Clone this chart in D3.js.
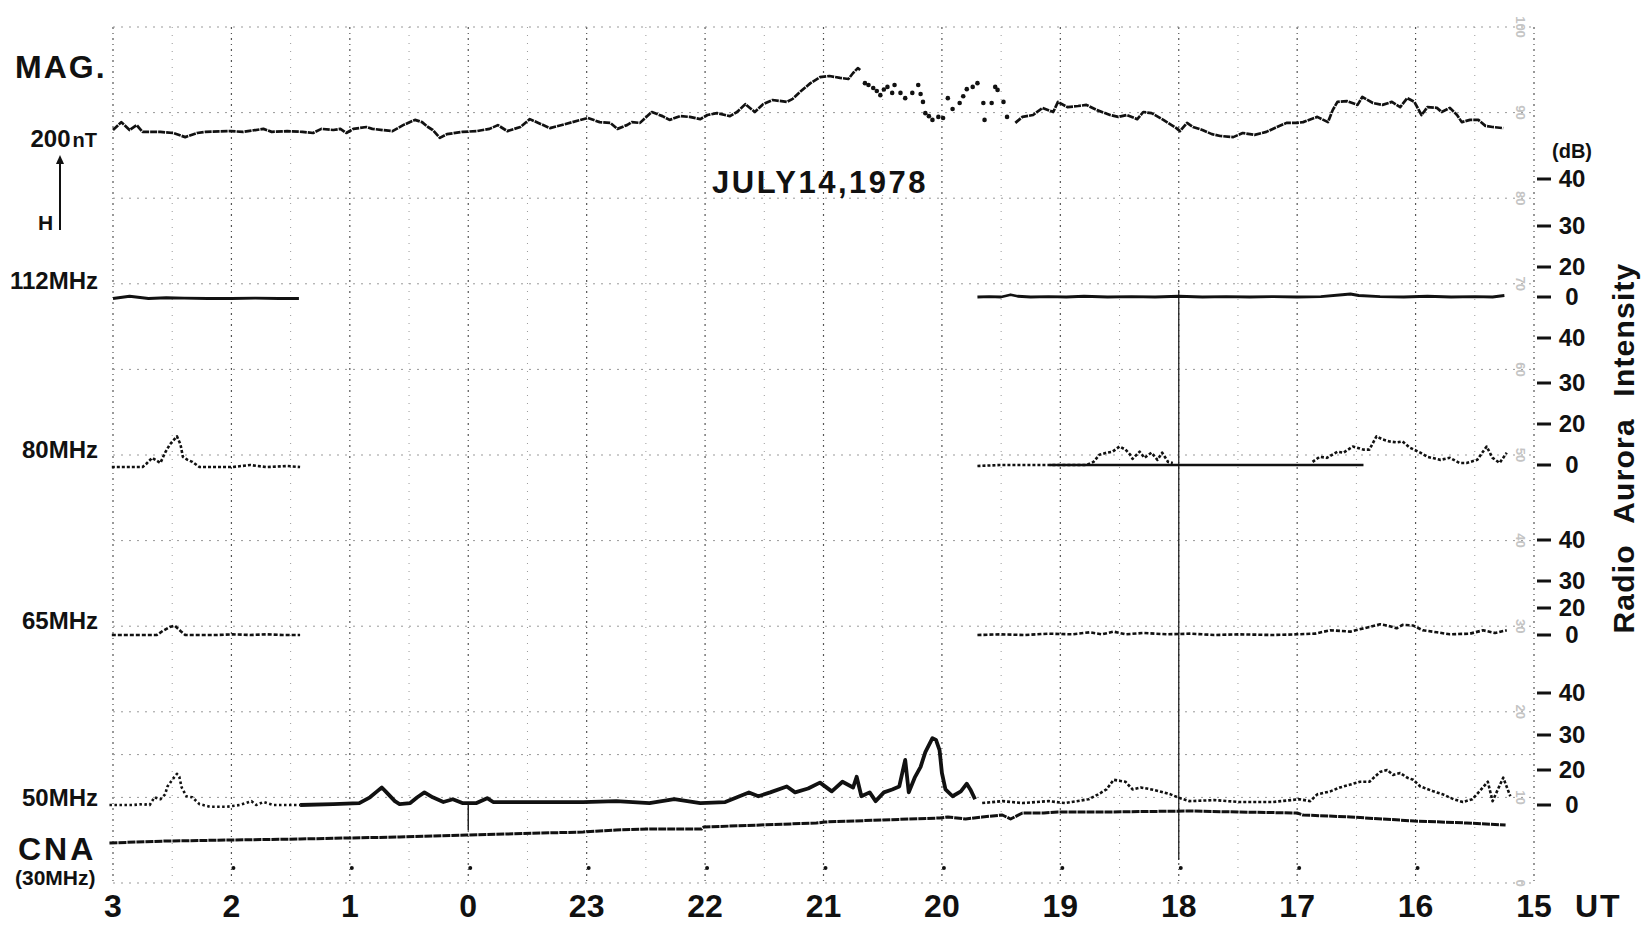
<!DOCTYPE html>
<html>
<head>
<meta charset="utf-8">
<script src="https://cdn.jsdelivr.net/npm/d3@7"></script>
<style>
body { margin: 0; background: #fff; }
text { font-family: "Liberation Sans", Arial, sans-serif; font-weight: bold; fill: #111; }
</style>
</head>
<body>
<div id="chart"></div>
<script>
// time axis: UT hours on a continuous scale, 24 = 0 UT, 27 = 3 UT
var hours = [15, 16, 17, 18, 19, 20, 21, 22, 23, 24, 25, 26, 27];
var hourLabels = ["15", "16", "17", "18", "19", "20", "21", "22", "23", "0", "1", "2", "3"];
var dbTicks = [0, 20, 30, 40];
// printed scale of the recorder paper, one number per division
var paperNumbers = [100, 90, 80, 70, 60, 50, 40, 30, 20, 10, 0];

// magnetometer H component, nT relative to the level at 03 UT
var magA = [[27.00,0],[26.93,21],[26.86,0],[26.80,13],[26.75,-5],[26.60,-5],[26.49,-8],[26.39,-19],[26.29,-8],[26.22,-5],[26.01,-3],[25.90,-5],[25.73,3],[25.66,-5],[25.53,-3],[25.40,-5],[25.31,-8],[25.24,3],[25.14,0],[25.08,3],[25.03,-8],[24.97,3],[24.86,8],[24.81,3],[24.64,-3],[24.55,13],[24.45,27],[24.39,21],[24.34,8],[24.30,0],[24.24,-21],[24.18,-11],[24.05,-5],[23.93,-3],[23.82,3],[23.75,13],[23.67,-3],[23.56,8],[23.48,29],[23.31,5],[23.12,21],[22.99,32],[22.89,21],[22.80,19],[22.74,3],[22.66,13],[22.62,21],[22.55,19],[22.45,48],[22.36,37],[22.30,27],[22.21,37],[22.13,35],[22.04,29],[21.98,40],[21.90,45],[21.79,37],[21.73,48],[21.66,69],[21.58,48],[21.51,69],[21.43,80],[21.31,75],[21.26,83],[21.20,101],[21.11,125],[21.03,141],[20.95,144],[20.86,139],[20.79,136],[20.75,152],[20.71,165],[20.69,160]];
var magB = [[20.65,125],[20.62,120],[20.58,112],[20.55,104],[20.52,93],[20.49,108],[20.46,115],[20.42,99],[20.40,120],[20.35,99],[20.31,85],[20.25,99],[20.20,120],[20.18,96],[20.16,75],[20.14,45],[20.11,37],[20.08,27],[20.03,35],[19.99,32],[19.95,85],[19.91,56],[19.85,72],[19.82,90],[19.79,109],[19.74,115],[19.70,125],[19.65,72],[19.64,27],[19.58,72],[19.55,115],[19.53,107],[19.48,75],[19.45,35]];
var magC = [[19.38,19],[19.32,35],[19.23,40],[19.15,59],[19.06,48],[19.02,75],[18.94,61],[18.85,64],[18.78,67],[18.69,53],[18.58,40],[18.51,35],[18.44,40],[18.35,29],[18.30,48],[18.23,45],[18.13,27],[18.02,5],[17.99,-3],[17.93,19],[17.88,8],[17.80,0],[17.72,-11],[17.65,-16],[17.54,-19],[17.46,-8],[17.36,-13],[17.26,-5],[17.17,8],[17.09,19],[17.00,19],[16.95,21],[16.83,35],[16.74,21],[16.70,53],[16.66,75],[16.58,77],[16.49,67],[16.45,88],[16.36,72],[16.28,67],[16.20,75],[16.13,61],[16.07,85],[16.01,75],[15.95,40],[15.90,61],[15.82,59],[15.78,48],[15.71,59],[15.65,40],[15.61,21],[15.54,27],[15.47,27],[15.41,11],[15.35,8],[15.26,5]];

// radio aurora intensity, dB
var r112a = [[27.00,-1],[26.86,0.5],[26.70,-1],[26.55,-0.5],[26.40,-0.7],[26.20,-1],[26.00,-1],[25.80,-0.7],[25.60,-1],[25.43,-1]];
var r112b = [[19.70,0],[19.60,0.3],[19.50,0],[19.42,1.5],[19.36,0.5],[19.25,0],[19.10,0.3],[18.95,0],[18.80,0.5],[18.60,0],[18.40,0.3],[18.20,0],[18.00,0.5],[17.80,0],[17.60,0.3],[17.40,0],[17.20,0.3],[17.00,0],[16.80,0.3],[16.62,1.5],[16.55,2],[16.48,1],[16.30,0.3],[16.10,0],[15.90,0.5],[15.70,0],[15.50,0.3],[15.35,0],[15.25,1]];

var r80a = [[27.01,-1],[26.75,-1],[26.72,0.5],[26.67,3.5],[26.60,1],[26.56,6],[26.52,10],[26.46,14],[26.43,10],[26.41,4],[26.37,2.5],[26.33,1.5],[26.27,-1],[26.12,-1],[25.99,-1],[25.84,0],[25.78,-0.5],[25.70,-1],[25.53,-0.5],[25.42,-1]];
var r80b = [[19.70,-0.5],[19.51,0],[19.26,0],[19.00,0],[18.78,0],[18.72,1.5],[18.67,5],[18.61,6],[18.56,6.5],[18.50,9],[18.45,7.5],[18.41,5],[18.39,3],[18.33,6.5],[18.29,3.5],[18.23,6],[18.18,2.5],[18.14,6],[18.09,1.5],[18.05,1]];
var r80c = [[16.87,1.5],[16.81,4],[16.75,3.5],[16.66,6.5],[16.61,6],[16.53,9],[16.44,7.5],[16.39,7.5],[16.33,14],[16.28,12.5],[16.22,11.5],[16.16,11],[16.11,11.5],[16.05,8.5],[15.96,6],[15.90,4],[15.79,2.5],[15.71,3.5],[15.63,1],[15.57,1],[15.48,2.5],[15.40,9],[15.35,3.5],[15.29,1],[15.23,6]];
var base80 = [19.09, 16.44];

var r65a = [[27.01,0],[26.63,0],[26.58,3],[26.52,6],[26.48,7],[26.43,3],[26.39,0],[26.27,0],[26.12,0],[25.99,0.5],[25.84,0],[25.70,0.5],[25.57,0],[25.42,0]];
var r65b = [[19.70,0],[19.50,0.5],[19.30,0],[19.10,1],[18.90,0.5],[18.75,2],[18.65,0.5],[18.55,2.5],[18.45,0.5],[18.30,1.5],[18.10,0.5],[17.90,1],[17.70,0],[17.50,0.5],[17.20,0],[17.00,0.5],[16.85,1],[16.72,3.5],[16.55,2.5],[16.39,6],[16.30,8],[16.24,7],[16.16,5],[16.11,7.5],[16.02,7],[15.94,3.5],[15.82,2],[15.71,0.5],[15.54,1],[15.43,3.5],[15.33,1.5],[15.23,3.5]];

var r50a = [[27.03,0],[26.94,0],[26.83,0],[26.75,0.5],[26.69,0],[26.65,4.4],[26.60,3.3],[26.56,6.1],[26.54,10.6],[26.50,14.4],[26.46,17.8],[26.44,16.1],[26.42,10],[26.38,5],[26.33,4.4],[26.27,0.5],[26.18,-1],[26.04,-1],[25.93,0],[25.83,2.2],[25.79,0],[25.73,1.7],[25.65,0],[25.53,0],[25.42,0]];
var r50b = [[25.42,0],[25.14,0.5],[24.92,1.1],[24.83,4.4],[24.77,7.8],[24.73,10],[24.69,7.2],[24.62,2.2],[24.58,0.5],[24.49,1.1],[24.43,4.4],[24.37,7.2],[24.30,4.4],[24.21,1.7],[24.13,3.3],[24.05,1.1],[23.93,1.1],[23.84,3.9],[23.79,1.7],[23.59,1.7],[23.31,1.7],[23.03,1.7],[22.75,2.2],[22.47,1.1],[22.26,3.3],[22.04,1.1],[21.83,1.7],[21.73,4.4],[21.63,7.2],[21.55,5],[21.45,7.2],[21.31,10.6],[21.24,7.2],[21.13,9.4],[21.03,12.8],[20.93,7.8],[20.84,13.3],[20.75,10],[20.72,16.1],[20.68,5],[20.61,7.2],[20.56,2.2],[20.49,7.2],[20.42,8.9],[20.36,10.6],[20.31,22.9],[20.28,7.2],[20.23,15.6],[20.18,20.9],[20.14,25.1],[20.08,29.1],[20.05,28.6],[20.02,25.7],[20.00,18.3],[19.97,8.9],[19.91,5],[19.84,7.8],[19.79,12.2],[19.76,8.9],[19.72,3.3]];
var r50c = [[19.66,1.1],[19.49,2.2],[19.32,1.1],[19.10,2.2],[18.96,1.1],[18.76,3.3],[18.68,6.1],[18.61,8.9],[18.55,14.4],[18.45,13.3],[18.39,8.9],[18.32,10],[18.23,8.9],[18.16,7.8],[18.07,6.1],[18.01,4.4],[17.91,2.2],[17.70,2.8],[17.49,1.7],[17.21,1.7],[16.98,3.3],[16.89,2.2],[16.83,6.1],[16.72,7.8],[16.64,10],[16.55,11.7],[16.47,13.3],[16.39,13.3],[16.30,18.9],[16.24,20],[16.19,17.2],[16.13,18.3],[16.07,15.6],[16.02,14.4],[15.96,10.6],[15.85,7.8],[15.77,6.1],[15.68,3.3],[15.60,1.7],[15.52,3.3],[15.46,7.8],[15.39,13.3],[15.35,2.2],[15.26,15.6],[15.20,5]];

// CNA at 30 MHz, relative level
var cna = [[27.03,0.1],[26.55,0.2],[25.99,0.25],[25.42,0.3],[25.03,0.35],[24.58,0.4],[24.01,0.5],[23.03,0.65],[22.75,0.75],[22.47,0.8],[22.03,0.8],[22.01,0.9],[21.06,1.1],[20.99,1.15],[20.02,1.35],[19.95,1.4],[19.80,1.3],[19.66,1.4],[19.49,1.5],[19.42,1.3],[19.32,1.6],[19.14,1.6],[19.02,1.65],[18.61,1.65],[17.91,1.7],[17.49,1.65],[17.00,1.6],[16.95,1.5],[16.55,1.4],[16.01,1.2],[15.57,1.1],[15.24,1.0]];

var W = 1652, H = 929;
var svg = d3.select('#chart').append('svg')
            .attr('width', W)
            .attr('height', H);

var x = d3.scaleLinear().domain([15, 27]).range([1534, 113]);
var paperY = d3.scaleLinear().domain([0, 10]).range([27, 883]);

var yMag = d3.scaleLinear().domain([0, 200]).range([130, 55]);
var y112 = d3.scaleLinear().domain(dbTicks).range([297, 267, 226, 179]);
var y80 = d3.scaleLinear().domain(dbTicks).range([465, 424, 383, 338]);
var y65 = d3.scaleLinear().domain(dbTicks).range([635, 608, 581, 540]);
var y50 = d3.scaleLinear().domain(dbTicks).range([805, 770, 735, 693]);
var yCna = d3.scaleLinear().domain([0, 2]).range([845, 805]);

// chart paper grid
var grid = svg.append('g');
grid.selectAll('line.v')
    .data(d3.range(15, 27.01, 0.5))
    .enter().append('line')
    .attr('x1', function(d) { return x(d); })
    .attr('x2', function(d) { return x(d); })
    .attr('y1', paperY(0))
    .attr('y2', paperY(10))
    .attr('stroke', function(d) { return d % 1 === 0 ? '#555' : '#999'; })
    .attr('stroke-width', function(d) { return d % 1 === 0 ? 1.2 : 1; })
    .attr('stroke-dasharray', function(d) { return d % 1 === 0 ? '2,4,1,4' : '1,7'; });

grid.selectAll('line.h')
    .data(d3.range(0, 11).concat([8.5]))
    .enter().append('line')
    .attr('x1', x(27))
    .attr('x2', x(15))
    .attr('y1', function(d) { return paperY(d); })
    .attr('y2', function(d) { return paperY(d); })
    .attr('stroke', '#999')
    .attr('stroke-dasharray', '2,6');

// faint printed paper scale
grid.selectAll('text')
    .data(paperNumbers)
    .enter().append('text')
    .attr('transform', function(d, i) { return 'translate(1516,' + paperY(i) + ') rotate(90)'; })
    .attr('text-anchor', 'middle')
    .attr('font-size', '13px')
    .attr('font-weight', 'normal')
    .style('fill', '#c4c4c4')
    .text(function(d) { return d; });

// solid marker lines
svg.append('line').attr('x1', x(18)).attr('x2', x(18)).attr('y1', 290).attr('y2', 860)
   .attr('stroke', '#222').attr('stroke-width', 1.3);
svg.append('line').attr('x1', x(24)).attr('x2', x(24)).attr('y1', 803).attr('y2', 830)
   .attr('stroke', '#222').attr('stroke-width', 1.5);

// hourly time marks near the bottom
svg.selectAll('circle.tm')
   .data(hours.slice(1, 12))
   .enter().append('circle')
   .attr('cx', function(d) { return x(d) + 2; })
   .attr('cy', 868)
   .attr('r', 2)
   .attr('fill', '#111');

function trace(data, ys, width, dash) {
  var line = d3.line()
      .x(function(d) { return x(d[0]); })
      .y(function(d) { return ys(d[1]); });
  svg.append('path')
     .datum(data)
     .attr('d', line)
     .attr('fill', 'none')
     .attr('stroke', '#111')
     .attr('stroke-width', width)
     .attr('stroke-linejoin', 'round')
     .attr('stroke-dasharray', dash || null);
}

function dots(data, ys) {
  svg.append('g').selectAll('circle')
     .data(data)
     .enter().append('circle')
     .attr('cx', function(d) { return x(d[0]); })
     .attr('cy', function(d) { return ys(d[1]); })
     .attr('r', 2.3)
     .attr('fill', '#111');
}

trace(magA, yMag, 2.7, '7,1');
dots(magB, yMag);
trace(magC, yMag, 2.7, '7,1');

trace(r112a, y112, 2.8);
trace(r112b, y112, 2.8);

trace(r80a, y80, 2.6, '3,2');
trace(r80b, y80, 2.6, '3,2');
trace(r80c, y80, 2.6, '3,2');
svg.append('line')
   .attr('x1', x(base80[0])).attr('x2', x(base80[1]))
   .attr('y1', y80(0)).attr('y2', y80(0))
   .attr('stroke', '#111').attr('stroke-width', 2.4);

trace(r65a, y65, 2.6, '4,2');
trace(r65b, y65, 2.6, '4,2');

trace(r50a, y50, 2.6, '2.5,2.5');
trace(r50b, y50, 3.8);
trace(r50c, y50, 2.6, '3,2');

trace(cna, yCna, 3, '8,1');

// right dB axis for each receiver
var panels = [y112, y80, y65, y50];
panels.forEach(function(ys) {
  var g = svg.append('g');
  g.selectAll('line')
   .data(dbTicks)
   .enter().append('line')
   .attr('x1', 1537).attr('x2', 1551)
   .attr('y1', function(d) { return ys(d); })
   .attr('y2', function(d) { return ys(d); })
   .attr('stroke', '#111')
   .attr('stroke-width', 3);
  g.selectAll('text')
   .data(dbTicks)
   .enter().append('text')
   .attr('x', 1572)
   .attr('y', function(d) { return ys(d) + 8; })
   .attr('text-anchor', 'middle')
   .attr('font-size', '24px')
   .text(function(d) { return d; });
});

svg.append('text').attr('x', 1552).attr('y', 158).attr('font-size', '20px').text('(dB)');

svg.append('text')
   .attr('transform', 'translate(1634,448) rotate(-90)')
   .attr('text-anchor', 'middle')
   .attr('font-size', '30px')
   .attr('letter-spacing', 1.2)
   .attr('word-spacing', 12)
   .text('Radio Aurora Intensity');

// time axis labels
svg.append('g').selectAll('text')
   .data(hours)
   .enter().append('text')
   .attr('x', function(d) { return x(d); })
   .attr('y', 917)
   .attr('text-anchor', 'middle')
   .attr('font-size', '32px')
   .text(function(d, i) { return hourLabels[i]; });
svg.append('text').attr('x', 1575).attr('y', 917).attr('font-size', '32px')
   .attr('letter-spacing', 2).text('UT');

// left labels
svg.append('text').attr('x', 15).attr('y', 78).attr('font-size', '32px')
   .attr('letter-spacing', 2).text('MAG.');
var nt = svg.append('text').attr('x', 97).attr('y', 147).attr('text-anchor', 'end')
   .attr('font-size', '24px');
nt.append('tspan').text('200');
nt.append('tspan').attr('font-size', '20px').attr('dx', 2).text('nT');

var arrowBase = 230;
var arrowTip = arrowBase - (yMag(0) - yMag(200));
svg.append('line').attr('x1', 60).attr('x2', 60).attr('y1', arrowBase).attr('y2', arrowTip + 6)
   .attr('stroke', '#111').attr('stroke-width', 2);
svg.append('path')
   .attr('d', 'M56,' + (arrowTip + 9) + ' L60,' + arrowTip + ' L64,' + (arrowTip + 9) + ' Z')
   .attr('fill', '#111');
svg.append('text').attr('x', 38).attr('y', 230).attr('font-size', '21px').text('H');

var freqLabels = [['112MHz', 289], ['80MHz', 458], ['65MHz', 629], ['50MHz', 806]];
svg.selectAll('text.freq')
   .data(freqLabels)
   .enter().append('text')
   .attr('x', 98)
   .attr('y', function(d) { return d[1]; })
   .attr('text-anchor', 'end')
   .attr('font-size', '24px')
   .text(function(d) { return d[0]; });

svg.append('text').attr('x', 18).attr('y', 860).attr('font-size', '32px')
   .attr('letter-spacing', 3).text('CNA');
svg.append('text').attr('x', 15).attr('y', 885).attr('font-size', '21px').text('(30MHz)');

svg.append('text').attr('x', 712).attr('y', 193).attr('font-size', '31px')
   .attr('letter-spacing', 2.5).text('JULY14,1978');
</script>
</body>
</html>
